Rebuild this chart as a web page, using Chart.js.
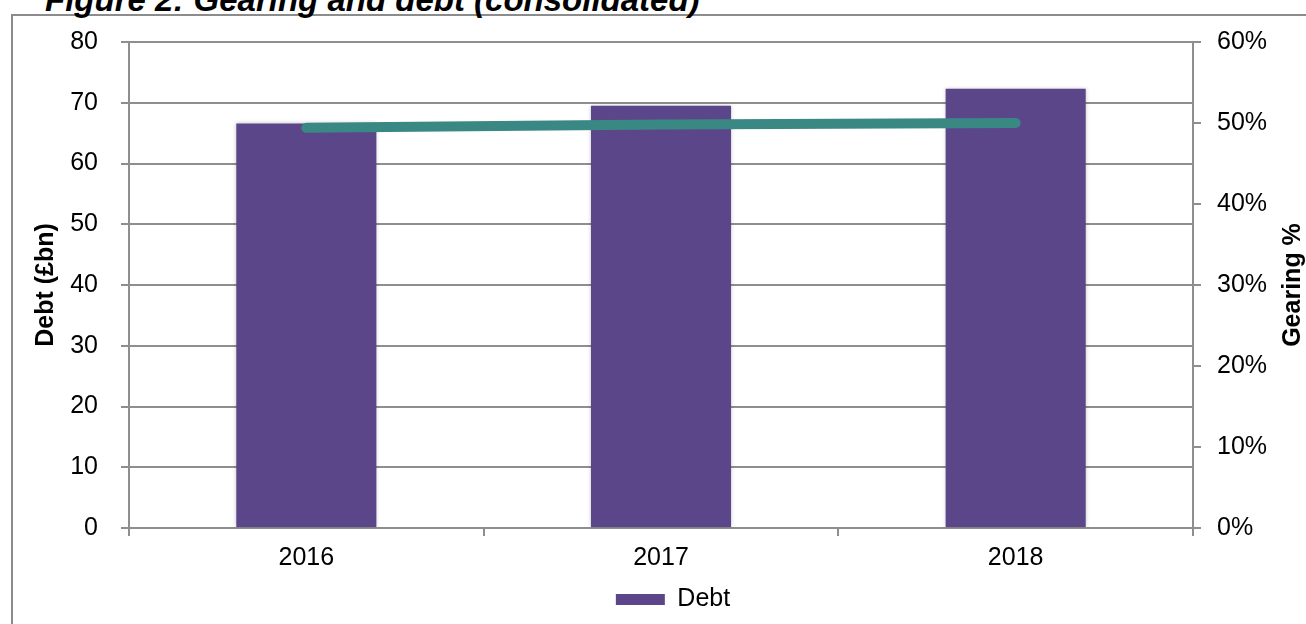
<!DOCTYPE html>
<html>
<head>
<meta charset="utf-8">
<script src="https://cdn.jsdelivr.net/npm/chart.js@4.4.0/dist/chart.umd.min.js"></script>
<style>
  body { margin: 0; background: #fff; overflow: hidden; }
  #frame {
    position: absolute; left: 11px; top: 14px; width: 1400px; height: 700px;
    border-left: 2px solid #8c8c8c; border-top: 2px solid #8c8c8c;
  }
  #title {
    position: absolute; left: 45px; top: -17px; white-space: nowrap;
    font: italic bold 33px "Liberation Sans", Arial, sans-serif; line-height: 1; color: #000;
  }
  #wrap { position: absolute; left: 0; top: 0; width: 1306px; height: 624px; }
</style>
</head>
<body>
<div id="frame"></div>
<div id="title">Figure 2: Gearing and debt (consolidated)</div>
<div id="wrap"><canvas id="chart" width="1306" height="624"></canvas></div>
<script>
// data
const years = ['2016', '2017', '2018'];
const debt = [66.6, 69.5, 72.3];       // £bn
const gearing = [49.4, 49.8, 50.0];    // %

const FONT = '"Liberation Sans", Arial, sans-serif';
const GRID = '#8e8e8e';

// Both axis titles read bottom-to-top, so draw them by hand
const axisTitles = {
  id: 'axisTitles',
  afterDraw(chart) {
    const { ctx, chartArea } = chart;
    const midY = (chartArea.top + chartArea.bottom) / 2;
    ctx.save();
    ctx.font = 'bold 25px ' + FONT;
    ctx.fillStyle = '#000';
    ctx.textAlign = 'center';
    ctx.textBaseline = 'middle';
    [[46, 'Debt (£bn)'], [1293, 'Gearing %']].forEach(([x, text]) => {
      ctx.save();
      ctx.translate(x, midY);
      ctx.rotate(-Math.PI / 2);
      ctx.fillText(text, 0, 0);
      ctx.restore();
    });
    ctx.restore();
  }
};

// soft shadow round the bars, and nudge the legend a little right
const extras = {
  id: 'extras',
  afterLayout(chart) {
    chart.legend.left += 20;
    chart.legend.right += 20;
  },
  beforeDatasetDraw(chart, args) {
    if (args.meta.type !== 'bar') return;
    const ctx = chart.ctx;
    ctx.save();
    ctx.shadowColor = 'rgba(0,0,0,0.22)';
    ctx.shadowBlur = 4;
  },
  afterDatasetDraw(chart, args) {
    if (args.meta.type !== 'bar') return;
    chart.ctx.restore();
  }
};

new Chart(document.getElementById('chart'), {
  data: {
    labels: years,
    datasets: [
      {
        type: 'line',
        label: 'Gearing',
        data: gearing,
        yAxisID: 'y2',
        borderColor: '#3a8884',
        borderWidth: 10,
        borderCapStyle: 'round',
        pointRadius: 0,
        tension: 0,
        order: 0
      },
      {
        type: 'bar',
        label: 'Debt',
        data: debt,
        yAxisID: 'y',
        backgroundColor: '#5c468a',
        categoryPercentage: 1,
        barPercentage: 0.395,
        order: 1
      }
    ]
  },
  options: {
    responsive: false,
    animation: false,
    layout: { padding: { top: 42, bottom: 2, left: 0, right: 0 } },
    plugins: {
      legend: {
        position: 'bottom',
        labels: {
          font: { family: FONT, size: 25 },
          color: '#000',
          boxWidth: 49,
          boxHeight: 11,
          padding: 10,
          filter: item => item.text === 'Debt'
        }
      },
      tooltip: { enabled: false },
      title: { display: false }
    },
    scales: {
      x: {
        grid: { drawOnChartArea: false, tickLength: 8, color: GRID, lineWidth: 2, offset: true },
        border: { color: GRID, width: 2 },
        ticks: { font: { family: FONT, size: 25 }, color: '#000', padding: 7 },
        afterFit: scale => { scale.height = 49; }
      },
      y: {
        position: 'left',
        min: 0,
        max: 80,
        ticks: { stepSize: 10, font: { family: FONT, size: 25 }, color: '#000', padding: 23 },
        grid: { color: GRID, lineWidth: 2, tickLength: 8 },
        border: { color: GRID, width: 2 },
        afterFit: scale => { scale.width = 129; }
      },
      y2: {
        position: 'right',
        min: 0,
        max: 60,
        ticks: {
          stepSize: 10,
          font: { family: FONT, size: 25 },
          color: '#000',
          padding: 16,
          callback: v => v + '%'
        },
        grid: { drawOnChartArea: false, color: GRID, lineWidth: 2, tickLength: 8 },
        border: { color: GRID, width: 2 },
        afterFit: scale => { scale.width = 113; }
      }
    }
  },
  plugins: [axisTitles, extras]
});
</script>
</body>
</html>
